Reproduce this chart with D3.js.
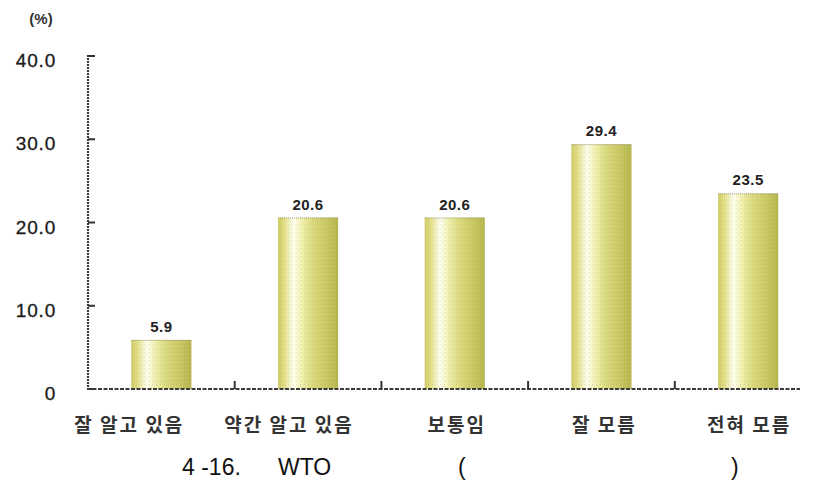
<!DOCTYPE html>
<html><head><meta charset="utf-8">
<script src="https://cdn.jsdelivr.net/npm/d3@7"></script>
<style>body{margin:0;background:#fff}svg{display:block}</style>
</head><body>
<svg id="c" width="815" height="495"></svg>
<script>
const categories = ["잘 알고 있음", "약간 알고 있음", "보통임", "잘 모름", "전혀 모름"];
const values = [5.9, 20.6, 20.6, 29.4, 23.5];
const valueLabels = ["5.9", "20.6", "20.6", "29.4", "23.5"];
const yTicks = [0, 10, 20, 30, 40];
const yTickLabels = ["0", "10.0", "20.0", "30.0", "40.0"];
const unitLabel = "(%)";
const captionParts = ["4-16.", "WTO", "(", ")"];

const svg = d3.select("#c");
const x0 = 88, yBase = 389, yTop = 56;
const x = d3.scaleBand().domain(categories).range([x0, x0 + 5 * 146.7]).padding(0);
const y = d3.scaleLinear().domain([0, 40]).range([yBase, yTop]);
const barW = x.bandwidth() * 0.41;

const defs = svg.append("defs");
const g = defs.append("linearGradient").attr("id", "bg").attr("x1", 0).attr("x2", 1).attr("y1", 0).attr("y2", 0);
[[0, "#cfca66"], [0.1, "#e2de84"], [0.26, "#fffff2"], [0.38, "#f4f2b4"], [0.55, "#dedc82"], [0.8, "#c9c862"], [1, "#b5b44c"]]
  .forEach(([o, c]) => g.append("stop").attr("offset", o).attr("stop-color", c));
const pat = defs.append("pattern").attr("id", "dots").attr("width", 4).attr("height", 4).attr("patternUnits", "userSpaceOnUse");
pat.append("rect").attr("x", 0).attr("y", 0).attr("width", 1).attr("height", 1).attr("fill", "#9aa27a").attr("opacity", 0.3);
pat.append("rect").attr("x", 2).attr("y", 2).attr("width", 1).attr("height", 1).attr("fill", "#bfe39a").attr("opacity", 0.35);

// bars
const bars = svg.append("g");
bars.selectAll("rect.b").data(values).join("rect").attr("class", "b")
  .attr("x", (d, i) => x(categories[i]) + (x.bandwidth() - barW) / 2)
  .attr("y", d => y(d)).attr("width", barW).attr("height", d => yBase - y(d))
  .attr("fill", "url(#bg)");
bars.selectAll("rect.p").data(values).join("rect").attr("class", "p")
  .attr("x", (d, i) => x(categories[i]) + (x.bandwidth() - barW) / 2)
  .attr("y", d => y(d)).attr("width", barW).attr("height", d => yBase - y(d))
  .attr("fill", "url(#dots)");
bars.selectAll("line.t").data(values).join("line").attr("class", "t")
  .attr("x1", (d, i) => x(categories[i]) + (x.bandwidth() - barW) / 2)
  .attr("x2", (d, i) => x(categories[i]) + (x.bandwidth() + barW) / 2)
  .attr("y1", d => y(d) + 0.5).attr("y2", d => y(d) + 0.5)
  .attr("stroke", "#9a9a80").attr("stroke-dasharray", "1,1");

// value labels
svg.append("g").selectAll("text").data(values).join("text")
  .attr("x", (d, i) => x(categories[i]) + x.bandwidth() / 2)
  .attr("y", d => y(d) - 8)
  .attr("text-anchor", "middle")
  .attr("font-family", "Liberation Sans, Arial, sans-serif")
  .attr("font-weight", "bold").attr("font-size", 15).attr("letter-spacing", 0.5)
  .attr("fill", "#222").text((d, i) => valueLabels[i]);

// y axis
const ax = svg.append("g");
ax.append("line").attr("x1", x0).attr("x2", x0).attr("y1", yTop - 1).attr("y2", yBase + 1)
  .attr("stroke", "#3a3a3a").attr("stroke-width", 2.2).attr("stroke-dasharray", "2,1");
ax.selectAll("line.tk").data(yTicks).join("line").attr("class", "tk")
  .attr("x1", x0).attr("x2", x0 + 7).attr("y1", d => y(d)).attr("y2", d => y(d))
  .attr("stroke", "#333").attr("stroke-width", 2);
ax.selectAll("text").data(yTicks).join("text")
  .attr("x", 56).attr("y", d => y(d) + 11)
  .attr("text-anchor", "end")
  .attr("font-family", "Liberation Sans, Arial, sans-serif").attr("font-size", 19)
  .attr("letter-spacing", 0.8).attr("fill", "#1a1a1a")
  .attr("stroke", "#1a1a1a").attr("stroke-width", 0.3)
  .text((d, i) => yTickLabels[i]);

svg.append("text").attr("x", 41).attr("y", 24).attr("text-anchor", "middle")
  .attr("font-family", "Liberation Sans, Arial, sans-serif").attr("font-size", 15).attr("font-weight", "bold")
  .attr("fill", "#333").text(unitLabel);

// x axis
ax.append("line").attr("x1", x0 - 1).attr("x2", 800).attr("y1", yBase).attr("y2", yBase)
  .attr("stroke", "#3a3a3a").attr("stroke-width", 2.2).attr("stroke-dasharray", "4,1.5");
ax.selectAll("line.sep").data(categories.slice(1)).join("line").attr("class", "sep")
  .attr("x1", d => x(d)).attr("x2", d => x(d)).attr("y1", yBase).attr("y2", yBase - 8)
  .attr("stroke", "#333").attr("stroke-width", 2);

// category labels
const labelShift = [-32, -19, 2, 3, 1];
svg.append("g").selectAll("text").data(categories).join("text")
  .attr("x", (d, i) => x(d) + x.bandwidth() / 2 + labelShift[i])
  .attr("y", 432).attr("text-anchor", "middle")
  .attr("font-family", "Noto Sans CJK KR, sans-serif").attr("font-weight", "bold")
  .attr("font-size", 19).attr("letter-spacing", 2).attr("fill", "#333")
  .text(d => d);

// caption
const capX = [182, 278, 458, 731];
svg.append("g").selectAll("text").data(captionParts).join("text")
  .attr("x", (d, i) => capX[i]).attr("y", 475)
  .attr("font-family", "Liberation Sans, Arial, sans-serif").attr("font-size", 23)
  .attr("fill", "#111").attr("xml:space", "preserve")
  .text(d => d === "4-16." ? "4 -16." : d);
</script>
</body></html>
